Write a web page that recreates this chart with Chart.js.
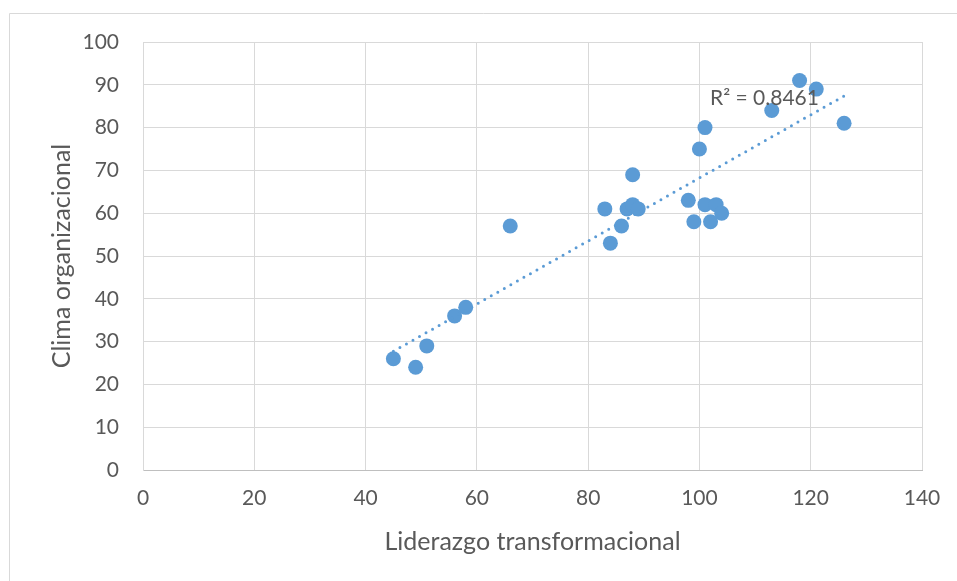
<!DOCTYPE html>
<html>
<head>
<meta charset="utf-8">
<script src="https://cdn.jsdelivr.net/npm/chart.js@4.4.1/dist/chart.umd.min.js"></script>
<style>
  html, body { margin: 0; padding: 0; background: #fff; }
  #wrap { width: 957px; height: 581px; position: relative; }
</style>
</head>
<body>
<div id="wrap"><canvas id="chart"></canvas></div>
<script>
// valores
const liderazgo = [45, 49, 51, 56, 58, 66, 83, 84, 86, 87, 88, 88, 89, 98, 99, 100, 101, 101, 102, 103, 104, 113, 118, 121, 126]
const clima     = [26, 24, 29, 36, 38, 57, 61, 53, 57, 61, 69, 62, 61, 63, 58, 75, 80, 62, 58, 62, 60, 84, 91, 89, 81]
const xTitle = 'Liderazgo transformacional'
const yTitle = 'Clima organizacional'
const r2Label = 'R² = 0.8461'

const blue = '#5B9BD5'
const grey = '#595959'
const gridColor = '#d9d9d9'

// tendencia lineal (minimos cuadrados)
function linearFit(xs, ys) {
    const n = xs.length
    const mx = xs.reduce((a, b) => a + b, 0) / n
    const my = ys.reduce((a, b) => a + b, 0) / n
    let sxy = 0, sxx = 0
    xs.forEach((x, i) => {
        sxy += (x - mx) * (ys[i] - my)
        sxx += (x - mx) * (x - mx)
    })
    const m = sxy / sxx
    return { m: m, b: my - m * mx }
}

const fit = linearFit(liderazgo, clima)
const xMin = Math.min(...liderazgo)
const xMax = Math.max(...liderazgo)
const trend = [xMin, xMax].map(x => ({ x: x, y: fit.m * x + fit.b }))
const points = liderazgo.map((x, i) => ({ x: x, y: clima[i] }))

// marco exterior y etiqueta R²
const extras = {
    id: 'extras',
    beforeDraw(chart) {
        const ctx = chart.ctx
        ctx.save()
        ctx.strokeStyle = gridColor
        ctx.lineWidth = 1
        ctx.beginPath()
        ctx.moveTo(9.5, 581)
        ctx.lineTo(9.5, 13.5)
        ctx.lineTo(957, 13.5)
        ctx.stroke()
        ctx.restore()
    },
    afterDraw(chart) {
        const ctx = chart.ctx
        const xs = chart.scales.x
        const ys = chart.scales.y
        ctx.save()
        ctx.font = '21px Lato, "Open Sans", sans-serif'
        ctx.fillStyle = grey
        ctx.textBaseline = 'middle'
        ctx.textAlign = 'left'
        ctx.fillText(r2Label, xs.getPixelForValue(101.9), ys.getPixelForValue(86.9))
        ctx.restore()
    }
}

Chart.defaults.font.family = 'Lato, "Open Sans", sans-serif'
Chart.defaults.color = grey

new Chart(document.getElementById('chart').getContext('2d'), {
    type: 'scatter',
    data: {
        datasets: [{
            type: 'line',
            label: 'Tendencia',
            data: trend,
            borderColor: blue,
            borderWidth: 3,
            borderDash: [0, 7.5],
            borderCapStyle: 'round',
            pointRadius: 0,
            fill: false,
            order: 0
        }, {
            label: yTitle,
            data: points,
            backgroundColor: blue,
            borderColor: blue,
            borderWidth: 0,
            pointRadius: 7.5,
            pointHoverRadius: 7.5,
            order: 1
        }]
    },
    options: {
        responsive: true,
        maintainAspectRatio: false,
        animation: false,
        layout: { padding: { top: 42, right: 35, left: 0, bottom: 0 } },
        plugins: {
            legend: { display: false },
            tooltip: { enabled: false }
        },
        scales: {
            x: {
                type: 'linear',
                min: 0,
                max: 140,
                ticks: { stepSize: 20, padding: 16, color: grey, font: { size: 21 } },
                grid: { color: gridColor, drawTicks: false },
                border: { color: '#bfbfbf' },
                title: { display: true, text: xTitle, color: grey, font: { size: 25 }, padding: { bottom: 24 } },
                afterFit(scale) { scale.height = 111 }
            },
            y: {
                min: 0,
                max: 100,
                ticks: { stepSize: 10, padding: 24, color: grey, font: { size: 21 } },
                grid: { color: gridColor, drawTicks: false },
                border: { color: gridColor },
                title: { display: true, text: yTitle, color: grey, font: { size: 25 }, padding: { top: 47 } },
                afterFit(scale) { scale.width = 143 }
            }
        }
    },
    plugins: [extras]
});
</script>
</body>
</html>
